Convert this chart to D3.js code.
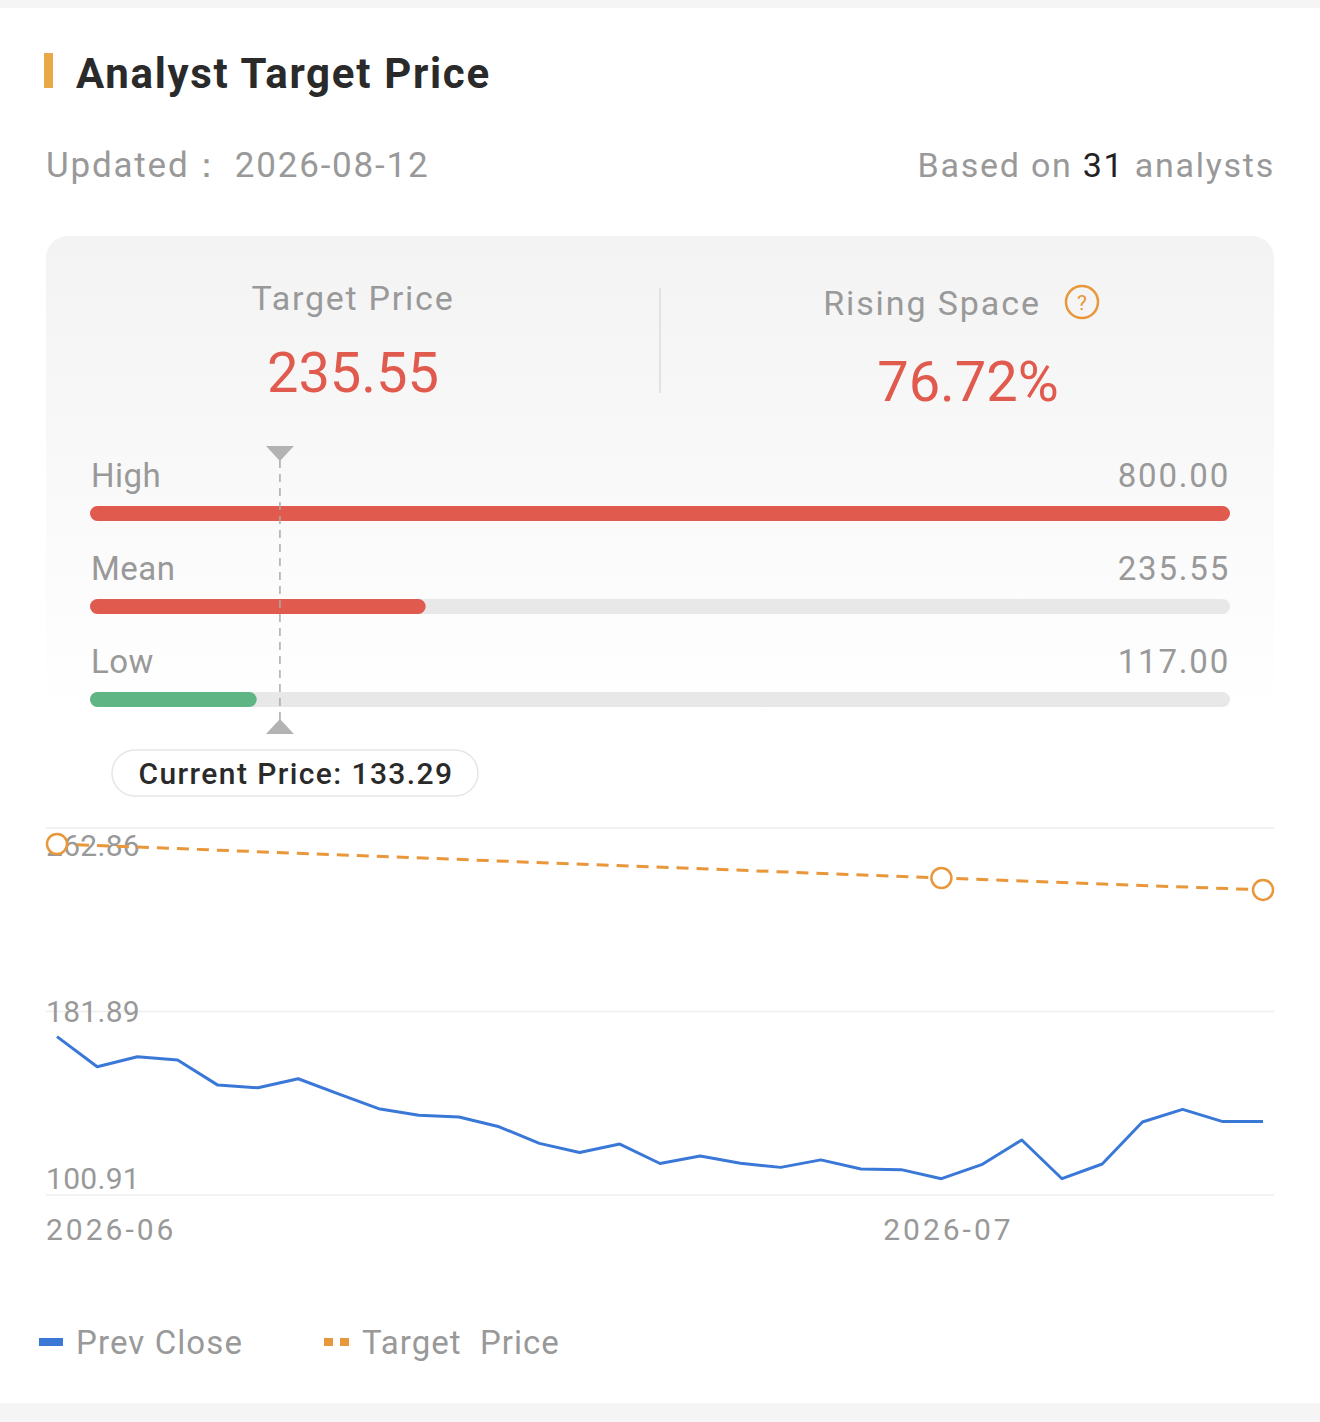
<html>
<head>
    <script src="https://d3js.org/d3.v7.min.js"></script>
    <style>
        body { margin: 0; background: #f5f5f5; }
        svg text { font-family: Roboto, "Noto Sans", sans-serif; }
    </style>
</head>
<body>
<svg id="chartArea" width="1320" height="1422"></svg>
<script>
    // summary numbers
    const updated = "2026-08-12";
    const analystCount = 31;
    const currentPrice = 133.29;
    const targetPrice = 235.55;

    // high / mean / low ranges
    const rangeLabels = ["High", "Mean", "Low"];
    const rangeValues = [800.00, 235.55, 117.00];
    const rangeMax = 800;

    // daily prev close
    const dates = ["2026-06-01", "2026-06-02", "2026-06-03", "2026-06-04", "2026-06-05",
        "2026-06-08", "2026-06-09", "2026-06-10", "2026-06-11", "2026-06-12",
        "2026-06-15", "2026-06-16", "2026-06-17", "2026-06-18", "2026-06-19",
        "2026-06-22", "2026-06-23", "2026-06-24", "2026-06-25", "2026-06-26",
        "2026-06-29", "2026-06-30", "2026-07-01", "2026-07-02", "2026-07-03",
        "2026-07-06", "2026-07-07", "2026-07-08", "2026-07-09", "2026-07-10", "2026-07-13"];
    const prevClose = [170.8, 157.5, 161.9, 160.5, 149.4, 148.2, 152.2, 145.5, 139.0, 136.1,
        135.3, 131.0, 123.7, 119.7, 123.4, 114.8, 118.1, 114.9, 113.1, 116.4,
        112.4, 112.1, 108.1, 114.3, 125.2, 108.1, 114.6, 133.1, 138.7, 133.29, 133.29];

    // target price history
    const targetDates = ["2026-06-01", "2026-07-01", "2026-07-13"];
    const targetValues = [255.8, 240.8, 235.55];

    // axis ticks
    const yTicks = [100.91, 181.89, 262.86];
    const xTickDates = ["2026-06-01", "2026-07-01"];
    const xTickLabels = ["2026-06", "2026-07"];

    const legendLabels = ["Prev Close", "Target\u00a0\u00a0Price"];

    const svg = d3.select("#chartArea");
    const gray = "#999";
    const red = "#e05a4e";
    const green = "#5fb584";
    const blue = "#3a78d8";
    const orange = "#e8973a";

    // white panel
    svg.append("rect").attr("x", 0).attr("y", 8).attr("width", 1320).attr("height", 1395).attr("fill", "#fff");

    // title
    svg.append("rect").attr("x", 44).attr("y", 53).attr("width", 9).attr("height", 35).attr("fill", "#e8a946");
    svg.append("text").attr("x", 76).attr("y", 88)
        .attr("font-size", 42).attr("font-weight", 700).attr("fill", "#2a2a2a")
        .attr("letter-spacing", 1.7)
        .text("Analyst Target Price");

    const upd = svg.append("text").attr("x", 46).attr("y", 177)
        .attr("font-size", 35).attr("fill", gray).attr("letter-spacing", 1.8);
    upd.append("tspan").text("Updated\uff1a");
    upd.append("tspan").attr("dx", -2).text(" " + updated);

    const based = svg.append("text").attr("x", 1275).attr("y", 177)
        .attr("font-size", 34).attr("fill", gray).attr("text-anchor", "end")
        .attr("letter-spacing", 1.75);
    based.append("tspan").text("Based on ");
    based.append("tspan").attr("fill", "#222").text(analystCount);
    based.append("tspan").text(" analysts");

    // card with gradient
    const defs = svg.append("defs");
    const grad = defs.append("linearGradient").attr("id", "cardGrad")
        .attr("x1", 0).attr("y1", 0).attr("x2", 0).attr("y2", 1);
    grad.append("stop").attr("offset", "0%").attr("stop-color", "#f3f3f3");
    grad.append("stop").attr("offset", "100%").attr("stop-color", "#ffffff");
    svg.append("rect").attr("x", 46).attr("y", 236).attr("width", 1228).attr("height", 480)
        .attr("rx", 22).attr("fill", "url(#cardGrad)");

    // target price / rising space
    svg.append("text").attr("x", 353).attr("y", 310).attr("text-anchor", "middle")
        .attr("font-size", 34).attr("fill", gray).attr("letter-spacing", 1.75).text("Target Price");
    svg.append("text").attr("x", 353).attr("y", 392).attr("text-anchor", "middle")
        .attr("font-size", 56).attr("fill", red).text(targetPrice.toFixed(2));

    svg.append("line").attr("x1", 660).attr("x2", 660).attr("y1", 288).attr("y2", 393)
        .attr("stroke", "#e2e2e2").attr("stroke-width", 2);

    svg.append("text").attr("x", 932).attr("y", 315).attr("text-anchor", "middle")
        .attr("font-size", 34).attr("fill", gray).attr("letter-spacing", 1.9).text("Rising Space");
    svg.append("circle").attr("cx", 1082).attr("cy", 302).attr("r", 16)
        .attr("fill", "none").attr("stroke", orange).attr("stroke-width", 2.5);
    svg.append("text").attr("x", 1082).attr("y", 310).attr("text-anchor", "middle")
        .attr("font-size", 21).attr("fill", orange).text("?");

    const rising = (targetPrice / currentPrice - 1) * 100;
    svg.append("text").attr("x", 968).attr("y", 401).attr("text-anchor", "middle")
        .attr("font-size", 56).attr("fill", red).text(rising.toFixed(2) + "%");

    // range bars
    const barScale = d3.scaleLinear().domain([0, rangeMax]).range([90, 1230]);
    const rowY = d3.scalePoint().domain(rangeLabels).range([506, 692]);
    const barH = 15;

    const rows = svg.selectAll(".range")
        .data(rangeLabels.map((l, i) => ({ label: l, value: rangeValues[i] })))
        .join("g").attr("class", "range");

    rows.append("rect")
        .attr("x", barScale(0)).attr("y", d => rowY(d.label))
        .attr("width", barScale(rangeMax) - barScale(0)).attr("height", barH)
        .attr("rx", barH / 2).attr("fill", "#e8e8e8");
    rows.append("rect")
        .attr("x", barScale(0)).attr("y", d => rowY(d.label))
        .attr("width", d => barScale(d.value) - barScale(0)).attr("height", barH)
        .attr("rx", barH / 2).attr("fill", d => d.value < currentPrice ? green : red);
    rows.append("text")
        .attr("x", 91).attr("y", d => rowY(d.label) - 19)
        .attr("font-size", 33).attr("fill", gray).attr("letter-spacing", 0.5).text(d => d.label);
    rows.append("text")
        .attr("x", 1230).attr("y", d => rowY(d.label) - 19).attr("text-anchor", "end")
        .attr("font-size", 33).attr("fill", gray).attr("letter-spacing", 1.8).text(d => d.value.toFixed(2));

    // current price marker
    const cx = barScale(currentPrice);
    svg.append("line").attr("x1", cx).attr("x2", cx).attr("y1", 460).attr("y2", 720)
        .attr("stroke", "#aaa").attr("stroke-width", 1.5).attr("stroke-dasharray", "8,6");
    svg.append("path").attr("d", `M${cx - 14},446 L${cx + 14},446 L${cx},461 Z`).attr("fill", "#b3b3b3");
    svg.append("path").attr("d", `M${cx - 14},734 L${cx + 14},734 L${cx},719 Z`).attr("fill", "#b3b3b3");

    svg.append("rect").attr("x", 112).attr("y", 750).attr("width", 366).attr("height", 46)
        .attr("rx", 23).attr("fill", "#fff").attr("stroke", "#e6e6e6").attr("stroke-width", 1.5);
    svg.append("text").attr("x", 296).attr("y", 784).attr("text-anchor", "middle")
        .attr("font-size", 30).attr("font-weight", 500).attr("fill", "#2a2a2a")
        .attr("letter-spacing", 1.4)
        .text("Current Price: " + currentPrice.toFixed(2));

    // line chart
    const xScale = d3.scalePoint().domain(dates).range([57, 1263]);
    const yScale = d3.scaleLinear().domain([yTicks[0], yTicks[2]]).range([1195, 828]);

    svg.append("g").selectAll("line").data(yTicks).join("line")
        .attr("x1", 46).attr("x2", 1274)
        .attr("y1", d => yScale(d)).attr("y2", d => yScale(d))
        .attr("stroke", "#eeeeee").attr("stroke-width", 1.5);

    const lineGenerator = d3.line()
        .x(d => xScale(d.date))
        .y(d => yScale(d.value));

    svg.append("path")
        .attr("d", lineGenerator(dates.map((d, i) => ({ date: d, value: prevClose[i] }))))
        .attr("fill", "none").attr("stroke", blue).attr("stroke-width", 3)
        .attr("stroke-linejoin", "round");

    // y labels (drawn before target line so the marker sits on top)
    svg.append("g").selectAll("text").data(yTicks).join("text")
        .attr("x", 46)
        .attr("y", (d, i) => yScale(d) + (i === 0 ? -6 : i === 2 ? 28 : 11))
        .attr("font-size", 30).attr("fill", gray).attr("letter-spacing", 0.3)
        .text(d => d.toFixed(2));

    const targetPts = targetDates.map((d, i) => ({ date: d, value: targetValues[i] }));
    svg.append("path")
        .attr("d", lineGenerator(targetPts))
        .attr("fill", "none").attr("stroke", orange).attr("stroke-width", 3)
        .attr("stroke-dasharray", "12,8");
    svg.append("g").selectAll("circle").data(targetPts).join("circle")
        .attr("cx", d => xScale(d.date)).attr("cy", d => yScale(d.value))
        .attr("r", 10).attr("fill", "#fff").attr("stroke", orange).attr("stroke-width", 2.5);

    // x labels
    svg.append("g").selectAll("text").data(xTickDates).join("text")
        .attr("x", (d, i) => i === 0 ? 46 : xScale(d) + 7)
        .attr("y", 1240)
        .attr("text-anchor", (d, i) => i === 0 ? "start" : "middle")
        .attr("font-size", 30).attr("fill", gray).attr("letter-spacing", 3)
        .text((d, i) => xTickLabels[i]);

    // legend
    const legend = svg.append("g").attr("transform", "translate(0,1342)");
    legend.append("rect").attr("x", 39).attr("y", -4).attr("width", 24).attr("height", 8).attr("fill", blue);
    legend.append("text").attr("x", 76).attr("y", 12).attr("font-size", 33).attr("fill", gray)
        .attr("letter-spacing", 1.1).text(legendLabels[0]);
    legend.append("rect").attr("x", 324).attr("y", -4).attr("width", 9).attr("height", 8).attr("fill", orange);
    legend.append("rect").attr("x", 340).attr("y", -4).attr("width", 9).attr("height", 8).attr("fill", orange);
    legend.append("text").attr("x", 362).attr("y", 12).attr("font-size", 33).attr("fill", gray)
        .attr("letter-spacing", 1).text(legendLabels[1]);
</script>
</body>
</html>
